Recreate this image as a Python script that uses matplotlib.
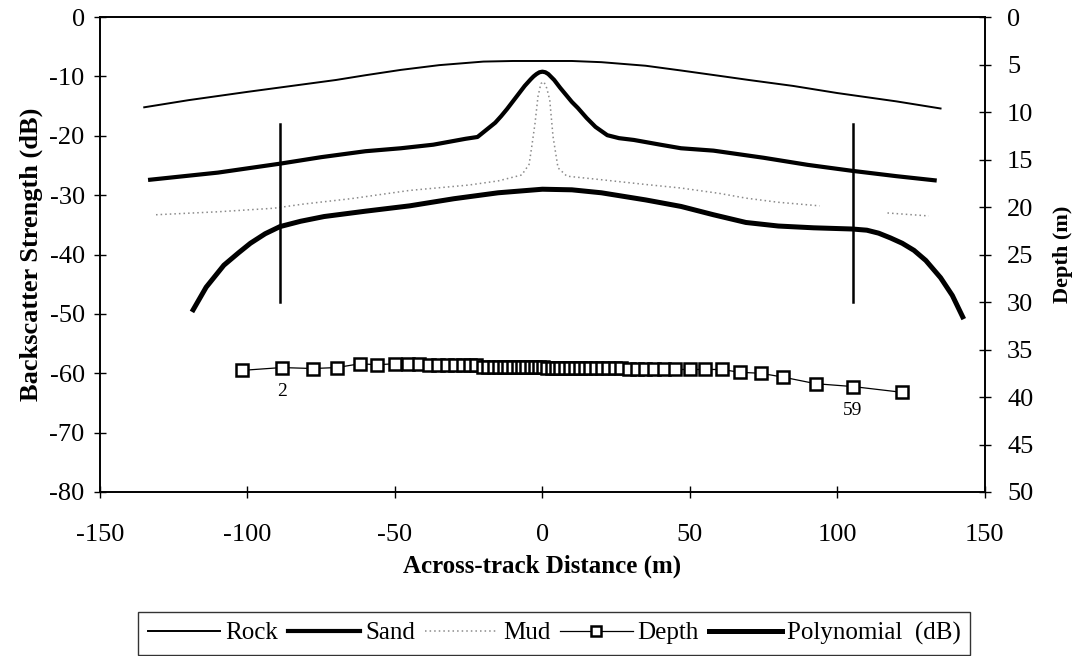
import numpy as np
import matplotlib
matplotlib.use("Agg")
import matplotlib.pyplot as plt
from matplotlib.lines import Line2D

plt.rcParams["font.family"] = ["Liberation Serif", "DejaVu Serif"]
plt.rcParams["axes.unicode_minus"] = False

# across-track distance (m) / backscatter (dB)
rock_x = [-135, -120, -100, -85, -70, -60, -48, -35, -20, -10, 0, 10, 20, 35, 47, 60, 70, 85, 100, 120, 135]
rock_db = [-15.2, -14.0, -12.6, -11.6, -10.6, -9.8, -8.9, -8.1, -7.5, -7.4, -7.4, -7.4, -7.6, -8.2, -9.0,
           -9.9, -10.6, -11.6, -12.8, -14.2, -15.4]

sand_x = [-133, -110, -89, -75, -60, -48, -37, -26, -22, -19, -16, -14, -12, -10, -8, -6, -4, -3, -2, -1, 0,
          1, 2, 3, 4, 6, 8, 10, 12, 15, 18, 22, 26, 31, 40, 47, 58, 75, 90, 105, 120, 133]
sand_db = [-27.4, -26.2, -24.7, -23.6, -22.6, -22.1, -21.5, -20.5, -20.2, -19.0, -17.8, -16.7, -15.5, -14.2,
           -12.9, -11.6, -10.5, -10.0, -9.6, -9.3, -9.2, -9.3, -9.6, -10.1, -10.6, -11.9, -13.1, -14.3,
           -15.3, -17.0, -18.5, -19.9, -20.4, -20.7, -21.5, -22.1, -22.5, -23.7, -24.9, -25.9, -26.8, -27.5]

mud_x = [-131, -110, -91, -81, -65, -45, -25, -15, -7, -4.5, -3.6, -2.5, -1.5, -0.5, 0.5, 1.5, 2.5, 3.6,
         5.3, 8.3, 20, 35, 47, 60, 69, 80, 94, 105, 117, 131]
mud_db = [-33.3, -32.8, -32.2, -31.5, -30.6, -29.2, -28.3, -27.6, -26.6, -24.8, -21.8, -17.9, -13.4, -11.2,
          -10.9, -12.0, -14.0, -20.1, -25.4, -26.8, -27.4, -28.2, -28.8, -29.7, -30.5, -31.2, -31.8, np.nan,
          -33.0, -33.5]

poly_x = [-118.4, -114, -108, -103, -99, -94, -89, -82, -74, -60, -45, -30, -15, 0, 10, 20, 35, 47, 58, 69,
          80, 92, 105, 110, 114, 118, 122, 126, 130, 135, 139, 142.5]
poly_db = [-49.3, -45.5, -41.8, -39.7, -38.1, -36.5, -35.3, -34.4, -33.6, -32.7, -31.8, -30.6, -29.6, -29.0,
           -29.1, -29.6, -30.8, -31.9, -33.3, -34.6, -35.2, -35.5, -35.7, -35.9, -36.4, -37.2, -38.1, -39.3,
           -41.0, -43.9, -46.9, -50.5]

# outer beams used (beam 2 and beam 59)
limit_x = [-89, 105.3]
limit_db = (-18, -48)

# beam positions and depth (m), beams 1..60
depth_x = [-102, -88.4, -77.8, -69.7, -61.9, -56, -50, -45.6, -42, -38.5,
           -35.3, -32.3, -29.5, -27, -24.6, -22.4, -20.3, -18.4, -16.5, -14.8,
           -13.1, -11.5, -9.9, -8.4, -6.9, -5.4, -4, -2.6, -1.2, 0.2,
           1.6, 3.1, 4.6, 6.1, 7.7, 9.3, 11, 12.7, 14.5, 16.3,
           18.2, 20.2, 22.3, 24.5, 26.8, 29.3, 32, 34.9, 38, 41.4,
           45, 50, 55, 60.8, 67, 74, 81.5, 92.7, 105.3, 121.8]
depth_m = [37.2, 36.9, 37.0, 36.9, 36.5, 36.6, 36.5, 36.5, 36.5, 36.6,
           36.6, 36.6, 36.6, 36.6, 36.6, 36.6, 36.8, 36.8, 36.8, 36.8,
           36.8, 36.8, 36.8, 36.8, 36.8, 36.8, 36.8, 36.8, 36.8, 36.8,
           36.9, 36.9, 36.9, 36.9, 36.9, 36.9, 36.9, 36.9, 36.9, 36.9,
           36.9, 36.9, 36.9, 36.9, 36.9, 37.0, 37.0, 37.0, 37.0, 37.0,
           37.1, 37.1, 37.1, 37.1, 37.4, 37.5, 37.9, 38.6, 38.9, 39.5]
beam_labels = {1: "2", 58: "59"}

fig = plt.figure(figsize=(10.81, 6.56), dpi=100)
ax = fig.add_axes([0.0925, 0.25, 0.8185, 0.724])

ax.plot(rock_x, rock_db, color="black", lw=1.4)
ax.plot(sand_x, sand_db, color="black", lw=3.0)
ax.plot(mud_x, mud_db, color="#8a8a8a", lw=1.1, ls=(0, (1, 2)))
ax.plot(poly_x, poly_db, color="black", lw=3.6)
for xv in limit_x:
    ax.plot([xv, xv], limit_db, color="black", lw=1.8)

ax.set_xlim(-150, 150)
ax.set_ylim(-80, 0)
ax.set_xticks(np.arange(-150, 151, 50))
ax.set_yticks(np.arange(-80, 1, 10))
ax.tick_params(direction="inout", length=8, width=1, labelsize=19)
ax.tick_params(axis="x", pad=19)
ax.tick_params(axis="y", pad=7)
ax.set_xlabel("Across-track Distance (m)", fontsize=18, fontweight="bold", labelpad=6)
ax.set_ylabel("Backscatter Strength (dB)", fontsize=19, fontweight="bold", labelpad=5)

ax2 = ax.twinx()
ax2.plot(depth_x, depth_m, color="black", lw=0.9, marker="s", ms=8, mfc="white", mec="black", mew=1.8)
for i, txt in beam_labels.items():
    ax2.annotate(txt, (depth_x[i], depth_m[i]), xytext=(0, -17), textcoords="offset points",
                 ha="center", va="center", fontsize=14)
ax2.set_ylim(50, 0)
ax2.set_yticks(np.arange(0, 51, 5))
ax2.tick_params(direction="inout", length=8, width=1, labelsize=19, pad=12)
ax2.set_ylabel("Depth (m)", fontsize=16, fontweight="bold", labelpad=14)

for a in (ax, ax2):
    for s in a.spines.values():
        s.set_linewidth(1.2)

handles = [
    Line2D([], [], color="black", lw=1.4),
    Line2D([], [], color="black", lw=3.0),
    Line2D([], [], color="#8a8a8a", lw=1.1, ls=(0, (1, 2))),
    Line2D([], [], color="black", lw=0.9, marker="s", ms=7, mfc="white", mec="black", mew=1.8),
    Line2D([], [], color="black", lw=3.6),
]
names = ["Rock", "Sand", "Mud", "Depth", "Polynomial  (dB)"]
leg = fig.legend(handles, names, loc="lower center", bbox_to_anchor=(0.5125, 0.0), ncol=5, fontsize=18,
                 frameon=True, fancybox=False, edgecolor="black", handlelength=2.9, handletextpad=0.2,
                 columnspacing=0.4, borderpad=0.4, borderaxespad=0.05)
leg.get_frame().set_linewidth(1.0)

fig.savefig("out.png", dpi=100)
